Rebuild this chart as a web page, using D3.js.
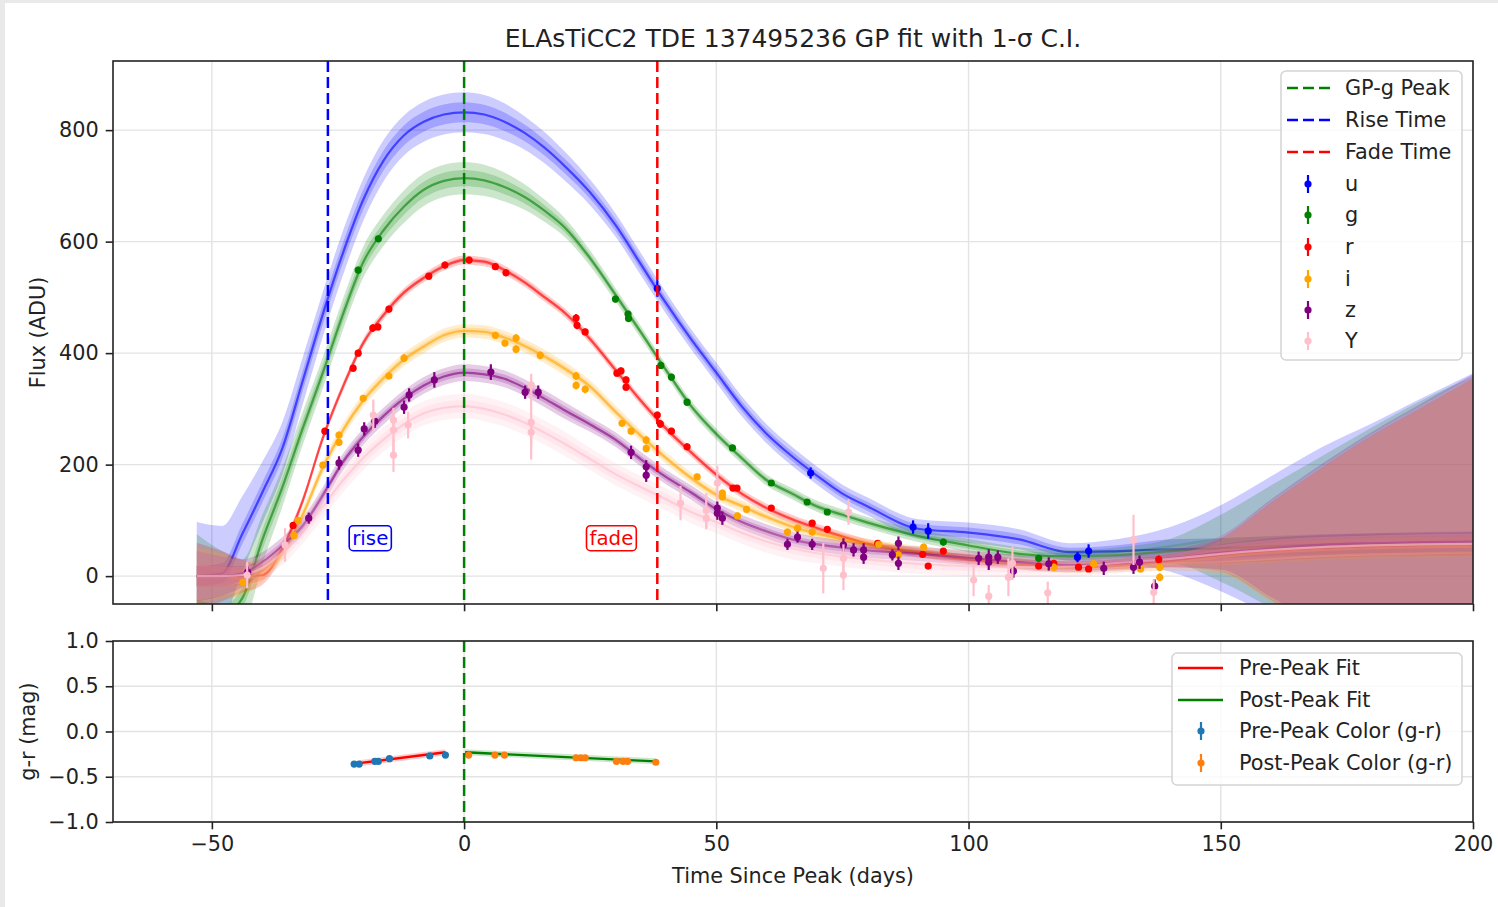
<!DOCTYPE html>
<html><head><meta charset="utf-8">
<script src="https://cdn.jsdelivr.net/npm/d3@7"></script>
<style>
html,body{margin:0;padding:0;background:#fff;}
svg{display:block;font-family:"DejaVu Sans",sans-serif;}
</style></head><body>
<svg id="chart" width="1498" height="907"></svg>
<script>
// ---------------- DATA ----------------
const bands = ["u","g","r","i","z","Y"];
const bandColors = ["#0000ff","#008000","#ff0000","#ffa500","#800080","#ffc0cb"];

const gridT = [-53,-48,-44,-40,-36,-32,-28,-24,-20,-16,-12,-8,-4,0,4,8,12,16,20,25,30,35,40,45,50,55,60,65,70,75,80,90,100,110,120,130,140,150,160,170,180,190,200];

const uMean = [0,5,75,150,230,350,470,580,675,745,790,815,828,832,828,815,795,768,735,688,630,560,490,425,365,305,255,215,180,148,125,85,78,66,43,45,48,50,54,57,59,60,61];
const uSigma = [97,85,68,55,47,42,40,40,38,37,36,36,36,36,35,33,30,28,26,23,21,20,19,18,18,18,17,17,16,16,16,17,18,18,16,22,40,77,125,174,215,260,303];

const gMean = [-60,-70,-40,65,160,265,365,470,563,620,662,693,709,714,710,698,680,655,625,570,505,438,370,305,255,212,172,148,125,110,96,72,55,40,35,38,45,50,53,55,57,58,58];
const gSigma = [135,115,70,45,35,30,28,28,28,28,29,29,29,29,28,26,23,20,17,14,12,11,10,10,10,10,10,10,10,10,10,11,12,12,12,14,22,60,110,160,210,258,300];

const rMean = [0,0,0,2,50,135,248,340,418,468,508,535,556,567,564,549,527,500,472,425,370,315,265,222,182,148,122,102,86,71,58,42,30,22,18,22,28,38,45,50,53,54,55];
const rSigma = [60,45,30,18,12,8,8,8,8,8,8,8,8,8,8,8,8,8,8,8,8,8,8,8,8,8,8,8,8,8,8,8,8,8,8,9,12,30,88,145,200,250,300];

const iMean = [0,0,-5,10,42,110,195,262,315,355,388,412,432,440,438,428,413,394,372,340,295,252,212,176,146,126,106,89,76,66,57,44,33,22,16,18,24,34,42,47,50,52,53];
const iSigma = [50,40,30,20,14,12,12,12,12,12,12,12,12,12,12,12,12,12,12,11,11,10,10,10,10,10,10,10,10,10,10,10,10,10,10,11,14,30,88,145,200,250,300];

const zMean = [0,0,5,25,55,90,145,205,250,287,318,342,358,365,362,354,338,318,297,272,245,210,178,150,120,97,80,66,57,51,46,40,33,25,20,24,32,42,50,56,59,61,62];
const zSigma = [45,35,25,18,15,15,15,15,15,15,15,15,15,15,15,15,15,15,15,13,13,13,13,13,13,13,13,13,13,13,13,13,13,13,13,14,16,30,88,145,200,250,300];

const yMean = [0,0,2,15,42,80,125,172,212,245,272,292,302,305,300,290,275,257,237,210,183,160,138,115,97,78,62,50,41,35,30,22,18,16,17,24,31,40,47,52,55,57,58];
const ySigma = [45,35,28,22,22,22,22,22,22,22,22,22,22,22,22,22,22,22,22,20,20,20,20,20,20,20,20,20,18,18,18,18,18,18,18,18,20,32,88,145,200,250,300];

// observations: [time, flux, error]
const uObs = [[38.3,516,15],[68.7,185,10],[89,88,12],[92,81,14],[121.6,34,9],[123.8,45,12]];
const gObs = [[-21,549,6],[-17,605,6],[30,497,6],[32.5,470,6],[32.6,462,6],[39,378,6],[41.1,357,6],[44.2,312,6],[53.2,230,5],[60.9,167,5],[68,133,5],[72,115,5],[95,61,6],[113.9,32,6]];
const rObs = [[-33.9,91,6],[-27.6,260,6],[-22,373,6],[-21,400,6],[-18.1,445,7],[-17.1,447,6],[-14.9,479,6],[-7,538,6],[-3.8,558,6],[1,567,6],[6.2,555,6],[8.3,544,6],[22.2,463,7],[22.4,450,7],[24,438,6],[30.3,364,6],[31.1,368,6],[32.1,352,6],[32.1,339,6],[38.3,289,6],[38.9,273,7],[41.1,260,6],[44.2,232,6],[53.3,158,5],[54.1,158,5],[60.9,122,5],[69,95,5],[72,84,5],[82,59,5],[90.9,39,5],[92,18,5],[95,45,5],[113.9,18,5],[116.9,23,6],[121.8,16,5],[123.8,13,5],[137.7,30,7]];
const iObs = [[-43.8,-11,6],[-33.7,73,6],[-32.9,100,6],[-28,199,6],[-24.8,253,6],[-24.8,240,6],[-20,319,6],[-14.9,359,6],[-11.9,391,7],[6.2,432,6],[8.1,418,6],[10.3,427,7],[10.3,407,7],[15.1,396,7],[22.2,359,7],[22.2,342,7],[24,335,7],[31.3,274,6],[33.1,260,6],[36.1,244,7],[36.1,229,7],[46.2,178,6],[51.2,149,6],[51.2,142,6],[54.2,108,6],[56,120,6],[64.1,79,6],[66.1,86,6],[69,79,6],[82.2,57,6],[86.1,38,6],[91.1,52,6],[116.9,16,6],[124.8,22,7],[134.1,13,6],[137.9,16,7],[137.9,-2,7]];
const zObs = [[-42.9,7,10],[-30.8,104,10],[-24.8,203,12],[-21,226,12],[-19.8,264,12],[-17.7,278,12],[-11.9,303,12],[-10.9,325,12],[-5.9,352,14],[5.3,366,14],[12.1,330,12],[14.7,330,12],[33.1,222,12],[36.1,196,12],[36.1,181,12],[50.2,122,12],[51.2,104,12],[50.2,113,12],[64.1,57,10],[66.1,70,10],[69,57,10],[75.2,56,12],[77.2,47,12],[79.2,47,12],[79.2,34,12],[84.9,38,10],[86.1,59,12],[86.1,23,12],[102,32,12],[104,34,14],[104,25,14],[105.8,34,12],[108.9,9,12],[115.9,22,12],[126.8,14,12],[132.7,16,12],[133.9,25,12],[136.9,-18,12]];
const yObs = [[-43,2,24],[-35.5,56,30],[-18,289,28],[-14,280,15],[-14,262,40],[-14,217,30],[-11.1,271,24],[13.3,343,20],[13.3,276,67],[13.3,258,20],[42.9,131,31],[48,118,31],[48,104,20],[50.2,167,31],[71.2,14,45],[75.2,32,25],[75.2,2,27],[76.2,115,23],[101,-7,29],[104,-36,20],[107.9,-2,34],[108.7,23,30],[115.7,-30,20],[132.7,65,45],[136.7,-29,23]];

const peakT = 0, riseT = -27, fadeT = 38.3;
const annotations = [["rise",-18.6,68,"#0000ff"],["fade",29.2,68,"#ff0000"]];

// colour (g-r) panel
const preColorT = [-21.8,-20.8,-17.7,-17.0,-14.8,-6.8,-3.7];
const preColorV = [-0.36,-0.36,-0.33,-0.33,-0.30,-0.27,-0.26];
const postColorT = [0.9,6.1,8.0,22.2,23.1,24.0,30.2,31.5,32.4,38.0];
const postColorV = [-0.26,-0.26,-0.26,-0.29,-0.29,-0.29,-0.33,-0.33,-0.33,-0.34];
const preFitT = [-20.8,-3.7], preFitV = [-0.35,-0.23];
const postFitT = [0.2,38.0], postFitV = [-0.23,-0.33];

const xTicks = [-50,0,50,100,150,200];
const fluxTicks = [0,200,400,600,800];
const colorTicks = [-1,-0.5,0,0.5,1];

const titleText = "ELAsTiCC2 TDE 137495236 GP fit with 1-σ C.I.";
const legendTop = ["GP-g Peak","Rise Time","Fade Time"];
const legendBottom = ["Pre-Peak Fit","Post-Peak Fit","Pre-Peak Color (g-r)","Post-Peak Color (g-r)"];

// ---------------- DRAW ----------------
const means = [uMean,gMean,rMean,iMean,zMean,yMean];
const sigmas = [uSigma,gSigma,rSigma,iSigma,zSigma,ySigma];
const obsAll = [uObs,gObs,rObs,iObs,zObs,yObs];

const FS = 20.8, INK = "#222";
const L = 113, R = 1473, T1 = 61, B1 = 604, T2 = 641, B2 = 822;
const svg = d3.select("#chart");
svg.append("rect").attr("x",0).attr("y",0).attr("width",1498).attr("height",907).attr("fill","#fff");
svg.append("rect").attr("x",0).attr("y",0).attr("width",1498).attr("height",3).attr("fill","#e9e9e9");
svg.append("rect").attr("x",0).attr("y",0).attr("width",5).attr("height",907).attr("fill","#e9e9e9");

const x = d3.scaleLinear().domain([-69.6,200]).range([L,R]);
const yF = d3.scaleLinear().domain([-50,924]).range([B1,T1]);
const yC = d3.scaleLinear().domain([-1,1]).range([B2,T2]);

const defs = svg.append("defs");
defs.append("clipPath").attr("id","c1").append("rect").attr("x",L).attr("y",T1).attr("width",R-L).attr("height",B1-T1);
defs.append("clipPath").attr("id","c2").append("rect").attr("x",L).attr("y",T2).attr("width",R-L).attr("height",B2-T2);

// grids
function grid(yScale, yTicks, top, bottom){
  const g = svg.append("g");
  xTicks.forEach(t=>g.append("line").attr("x1",x(t)).attr("x2",x(t)).attr("y1",top).attr("y2",bottom).attr("stroke","#e3e3e3").attr("stroke-width",1.4));
  yTicks.forEach(t=>g.append("line").attr("x1",L).attr("x2",R).attr("y1",yScale(t)).attr("y2",yScale(t)).attr("stroke","#e3e3e3").attr("stroke-width",1.4));
}
grid(yF, fluxTicks, T1, B1);
grid(yC, colorTicks, T2, B2);

// top panel content
const p1 = svg.append("g").attr("clip-path","url(#c1)");
bands.forEach((b,k)=>{
  const m = means[k], s = sigmas[k], col = bandColors[k];
  const area = (f)=>d3.area().x((d,j)=>x(gridT[j])).y0((d,j)=>yF(m[j]-f(s[j]))).y1((d,j)=>yF(m[j]+f(s[j]))).curve(d3.curveMonotoneX);
  p1.append("path").datum(m).attr("d",area(v=>v)).attr("fill",col).attr("fill-opacity",0.2);
  p1.append("path").datum(m).attr("d",area(v=>Math.min(v*0.5,18))).attr("fill",col).attr("fill-opacity",0.2);
  const line = d3.line().x((d,j)=>x(gridT[j])).y(d=>yF(d)).curve(d3.curveMonotoneX);
  p1.append("path").datum(m).attr("d",line).attr("fill","none").attr("stroke",col).attr("stroke-width",2.2).attr("stroke-opacity",0.6);
});
bands.forEach((b,k)=>{
  const col = bandColors[k];
  obsAll[k].forEach(([t,f,e])=>{
    p1.append("line").attr("x1",x(t)).attr("x2",x(t)).attr("y1",yF(f-e)).attr("y2",yF(f+e)).attr("stroke",col).attr("stroke-width",2.2);
    p1.append("circle").attr("cx",x(t)).attr("cy",yF(f)).attr("r",3.6).attr("fill",col);
  });
});
// vertical lines
[[peakT,"#008000"],[riseT,"#0000ff"],[fadeT,"#ff0000"]].forEach(([t,c])=>{
  p1.append("line").attr("x1",x(t)).attr("x2",x(t)).attr("y1",T1).attr("y2",B1).attr("stroke",c).attr("stroke-width",2.5).attr("stroke-dasharray","11,5");
});
// annotations
annotations.forEach(([txt,t,f,c])=>{
  const g = svg.append("g");
  const tx = g.append("text").attr("x",x(t)).attr("y",yF(f)).attr("text-anchor","middle").attr("dominant-baseline","central").attr("font-size",FS-1).attr("fill",c).text(txt);
  const bb = tx.node().getBBox();
  g.insert("rect","text").attr("x",bb.x-3).attr("y",yF(f)-12.5).attr("width",bb.width+6).attr("height",25).attr("rx",4).attr("fill","#fff").attr("stroke",c).attr("stroke-width",1.6);
});

// bottom panel content
const p2 = svg.append("g").attr("clip-path","url(#c2)");
const fitLine = d3.line().x(d=>x(d[0])).y(d=>yC(d[1]));
const preFit = preFitT.map((t,i)=>[t,preFitV[i]]), postFit = postFitT.map((t,i)=>[t,postFitV[i]]);
p2.append("path").datum(preFit).attr("d",fitLine).attr("fill","none").attr("stroke","#ff0000").attr("stroke-opacity",0.2).attr("stroke-width",6);
p2.append("path").datum(postFit).attr("d",fitLine).attr("fill","none").attr("stroke","#008000").attr("stroke-opacity",0.2).attr("stroke-width",6);
p2.append("path").datum(preFit).attr("d",fitLine).attr("fill","none").attr("stroke","#ff0000").attr("stroke-width",2.4);
p2.append("path").datum(postFit).attr("d",fitLine).attr("fill","none").attr("stroke","#008000").attr("stroke-width",2.4);
function colorPts(T,V,c){
  T.forEach((t,i)=>{
    p2.append("line").attr("x1",x(t)).attr("x2",x(t)).attr("y1",yC(V[i]-0.015)).attr("y2",yC(V[i]+0.015)).attr("stroke",c).attr("stroke-width",2);
    p2.append("circle").attr("cx",x(t)).attr("cy",yC(V[i])).attr("r",3.6).attr("fill",c);
  });
}
colorPts(preColorT,preColorV,"#1f77b4");
colorPts(postColorT,postColorV,"#ff7f0e");
p2.append("line").attr("x1",x(peakT)).attr("x2",x(peakT)).attr("y1",T2).attr("y2",B2).attr("stroke","#008000").attr("stroke-width",2.5).attr("stroke-dasharray","11,5");

// axes
function styleAxis(g){
  g.attr("font-family",null).attr("font-size",null);
  g.select(".domain").remove();
  g.selectAll(".tick line").attr("stroke",INK).attr("stroke-width",1.6);
  g.selectAll(".tick text").attr("fill",INK).attr("font-size",FS).attr("font-family","DejaVu Sans");
}
const minusFmt = d=> (d<0? "\u2212"+Math.abs(d) : String(d));
svg.append("g").attr("transform",`translate(0,${B1})`).call(d3.axisBottom(x).tickValues(xTicks).tickSize(7.3).tickSizeOuter(0).tickFormat("")).call(styleAxis);
svg.append("g").attr("transform",`translate(0,${B2})`).call(d3.axisBottom(x).tickValues(xTicks).tickSize(7.3).tickPadding(7).tickSizeOuter(0).tickFormat(minusFmt)).call(styleAxis);
svg.append("g").attr("transform",`translate(${L},0)`).call(d3.axisLeft(yF).tickValues(fluxTicks).tickSize(7.3).tickPadding(7).tickSizeOuter(0)).call(styleAxis);
svg.append("g").attr("transform",`translate(${L},0)`).call(d3.axisLeft(yC).tickValues(colorTicks).tickSize(7.3).tickPadding(7).tickSizeOuter(0).tickFormat(d3.format(".1f"))).call(styleAxis);
// spines
svg.append("rect").attr("x",L).attr("y",T1).attr("width",R-L).attr("height",B1-T1).attr("fill","none").attr("stroke",INK).attr("stroke-width",1.6);
svg.append("rect").attr("x",L).attr("y",T2).attr("width",R-L).attr("height",B2-T2).attr("fill","none").attr("stroke",INK).attr("stroke-width",1.6);

// labels
svg.append("text").attr("x",(L+R)/2).attr("y",38).attr("text-anchor","middle").attr("dominant-baseline","central").attr("font-size",25).attr("fill",INK).text(titleText);
svg.append("text").attr("x",(L+R)/2).attr("y",876).attr("text-anchor","middle").attr("dominant-baseline","central").attr("font-size",FS).attr("fill",INK).text("Time Since Peak (days)");
svg.append("text").attr("transform",`translate(38,${(T1+B1)/2}) rotate(-90)`).attr("text-anchor","middle").attr("dominant-baseline","central").attr("font-size",FS).attr("fill",INK).text("Flux (ADU)");
svg.append("text").attr("transform",`translate(28,${(T2+B2)/2}) rotate(-90)`).attr("text-anchor","middle").attr("dominant-baseline","central").attr("font-size",FS).attr("fill",INK).text("g-r (mag)");

// legends
function legendFrame(x0,y0,w,h){
  svg.append("rect").attr("x",x0).attr("y",y0).attr("width",w).attr("height",h).attr("rx",5).attr("fill","#fff").attr("fill-opacity",0.8).attr("stroke","#d4d4d4").attr("stroke-width",1.5);
}
function legendText(xt,yy,txt){
  svg.append("text").attr("x",xt).attr("y",yy).attr("dominant-baseline","central").attr("font-size",FS).attr("fill",INK).text(txt);
}
function legendErr(xc,yy,c){
  svg.append("line").attr("x1",xc).attr("x2",xc).attr("y1",yy-9).attr("y2",yy+9).attr("stroke",c).attr("stroke-width",2.2);
  svg.append("circle").attr("cx",xc).attr("cy",yy).attr("r",3.6).attr("fill",c);
}
legendFrame(1281,71,181,289);
const topRows = [88,120,152,184,215,247,279,310,341];
const vlColors = ["#008000","#0000ff","#ff0000"];
legendTop.forEach((txt,i)=>{
  svg.append("line").attr("x1",1287).attr("x2",1330).attr("y1",topRows[i]).attr("y2",topRows[i]).attr("stroke",vlColors[i]).attr("stroke-width",2.5).attr("stroke-dasharray","11,5");
  legendText(1345,topRows[i],txt);
});
bands.forEach((b,k)=>{
  legendErr(1308,topRows[3+k],bandColors[k]);
  legendText(1345,topRows[3+k],b);
});
legendFrame(1172,653,290,132);
const botRows = [668,700,731,763];
svg.append("line").attr("x1",1178).attr("x2",1223).attr("y1",botRows[0]).attr("y2",botRows[0]).attr("stroke","#ff0000").attr("stroke-width",2.6);
svg.append("line").attr("x1",1178).attr("x2",1223).attr("y1",botRows[1]).attr("y2",botRows[1]).attr("stroke","#008000").attr("stroke-width",2.6);
legendErr(1201,botRows[2],"#1f77b4");
legendErr(1201,botRows[3],"#ff7f0e");
legendBottom.forEach((txt,i)=>legendText(1239,botRows[i],txt));
</script>
</body></html>
